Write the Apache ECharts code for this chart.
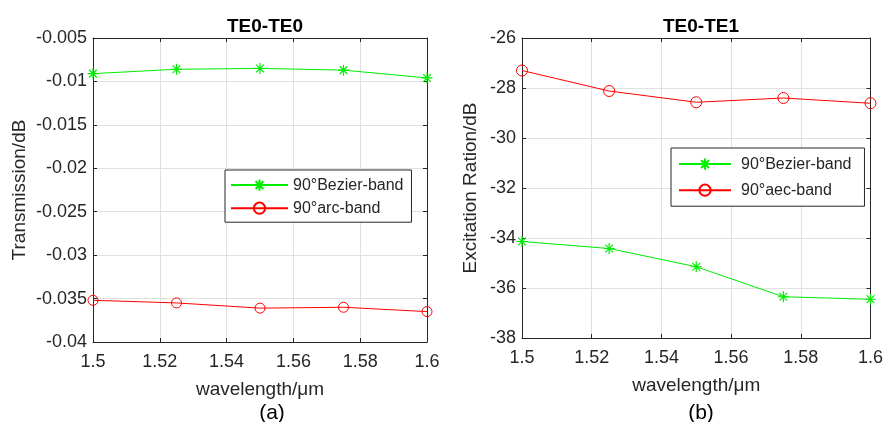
<!DOCTYPE html>
<html>
<head>
<meta charset="utf-8">
<script src="https://cdn.jsdelivr.net/npm/echarts@6/dist/echarts.min.js"></script>
<style>
  html, body { margin: 0; padding: 0; background: #fff; }
  #main { width: 886px; height: 422px; }
</style>
</head>
<body>
<div id="main"></div>
<script>
var wavelength = [1.5, 1.525, 1.55, 1.575, 1.6];

// (a) TE0-TE0 transmission
var bezierTE0 = [-0.0091, -0.0086, -0.0085, -0.0087, -0.0096];
var arcTE0 = [-0.0352, -0.0355, -0.0361, -0.0360, -0.0365];

// (b) TE0-TE1 excitation ratio
var bezierTE1 = [-34.14, -34.42, -35.15, -36.35, -36.45];
var aecTE1 = [-27.30, -28.12, -28.57, -28.40, -28.61];

var xTicks = { min: 1.5, max: 1.6, interval: 0.02 };
var yTicksA = { min: -0.04, max: -0.005, interval: 0.005 };
var yTicksB = { min: -38, max: -26, interval: 2 };

var textColor = '#262626';
var font = 'Liberation Sans, Arial, sans-serif';
var green = '#00ee00';
var red = '#ff0000';

// asterisk marker, drawn with strokes
var star = 'path://M0 5 L10 5 M5 0 L5 10 M1.5 1.5 L8.5 8.5 M8.5 1.5 L1.5 8.5';

function pairs(xs, ys) {
    return xs.map(function (x, i) { return [x, ys[i]]; });
}

var myChart = echarts.init(document.getElementById('main'));

function xAxisFor(grid, pos) {
    var main = pos === 'bottom';
    return {
        type: 'value', gridIndex: grid, position: pos,
        min: xTicks.min, max: xTicks.max, interval: xTicks.interval,
        name: main ? 'wavelength/μm' : '',
        nameLocation: 'middle', nameGap: 38,
        nameTextStyle: { color: textColor, fontSize: 19, fontFamily: font },
        axisLine: { show: true, lineStyle: { color: textColor } },
        axisTick: { show: true, inside: true, length: 4, lineStyle: { color: textColor } },
        axisLabel: {
            show: main, color: textColor, fontSize: 18, fontFamily: font, margin: 11,
            formatter: function (v) { return String(+v.toFixed(2)); }
        },
        splitLine: { show: main, lineStyle: { color: '#e0e0e0' } }
    };
}

function yAxisFor(grid, pos, ticks, name, gap, digits) {
    var main = pos === 'left';
    return {
        type: 'value', gridIndex: grid, position: pos,
        min: ticks.min, max: ticks.max, interval: ticks.interval,
        name: main ? name : '',
        nameLocation: 'middle', nameGap: gap,
        nameTextStyle: { color: textColor, fontSize: 19, fontFamily: font },
        axisLine: { show: true, lineStyle: { color: textColor } },
        axisTick: { show: true, inside: true, length: 4, lineStyle: { color: textColor } },
        axisLabel: {
            show: main, color: textColor, fontSize: 18, fontFamily: font, margin: 6,
            formatter: function (v) { return String(+v.toFixed(digits)); }
        },
        splitLine: { show: main, lineStyle: { color: '#e0e0e0' } }
    };
}

var option = {
    animation: false,
    backgroundColor: '#fff',
    title: [
        { text: 'TE0-TE0', left: 260, top: 12, textAlign: 'center',
          textStyle: { fontSize: 19, fontWeight: 'bold', color: '#000', fontFamily: font } },
        { text: 'TE0-TE1', left: 696, top: 12, textAlign: 'center',
          textStyle: { fontSize: 19, fontWeight: 'bold', color: '#000', fontFamily: font } },
        { text: '(a)', left: 267, top: 398, textAlign: 'center',
          textStyle: { fontSize: 21, fontWeight: 'normal', color: '#000', fontFamily: font } },
        { text: '(b)', left: 696, top: 398, textAlign: 'center',
          textStyle: { fontSize: 21, fontWeight: 'normal', color: '#000', fontFamily: font } }
    ],
    grid: [
        { left: 93, right: 459, top: 38, bottom: 80 },
        { left: 522, right: 15, top: 38, bottom: 84 }
    ],
    legend: [
        {
            data: ['90°Bezier-band', '90°arc-band'],
            orient: 'vertical', left: 225, top: 170,
            itemWidth: 57, itemHeight: 14, itemGap: 7,
            padding: [7, 8, 6, 5],
            borderColor: textColor, borderWidth: 1, borderRadius: 0,
            backgroundColor: '#fff',
            textStyle: { fontSize: 16, color: textColor, fontFamily: font },
            selectedMode: false
        },
        {
            data: ['90°Bezier-band', '90°aec-band'],
            orient: 'vertical', left: 671, top: 148,
            itemWidth: 52, itemHeight: 14, itemGap: 10,
            padding: [8, 13, 8, 7],
            borderColor: textColor, borderWidth: 1, borderRadius: 0,
            backgroundColor: '#fff',
            textStyle: { fontSize: 16, color: textColor, fontFamily: font, padding: [0, 0, 0, 5] },
            selectedMode: false
        }
    ],
    xAxis: [
        xAxisFor(0, 'bottom'), xAxisFor(0, 'top'),
        xAxisFor(1, 'bottom'), xAxisFor(1, 'top')
    ],
    yAxis: [
        yAxisFor(0, 'left', yTicksA, 'Transmission/dB', 64, 3),
        yAxisFor(0, 'right', yTicksA, '', 0, 3),
        yAxisFor(1, 'left', yTicksB, 'Excitation Ration/dB', 42, 0),
        yAxisFor(1, 'right', yTicksB, '', 0, 0)
    ],
    series: [
        {
            name: '90°Bezier-band', type: 'line', xAxisIndex: 0, yAxisIndex: 0,
            data: pairs(wavelength, bezierTE0),
            symbol: star, symbolSize: 11,
            lineStyle: { color: green, width: 1 },
            itemStyle: { color: 'none', borderColor: green, borderWidth: 1.2 }
        },
        {
            name: '90°arc-band', type: 'line', xAxisIndex: 0, yAxisIndex: 0,
            data: pairs(wavelength, arcTE0),
            symbol: 'circle', symbolSize: 10,
            lineStyle: { color: red, width: 1 },
            itemStyle: { color: 'rgba(0,0,0,0)', borderColor: red, borderWidth: 1 }
        },
        {
            name: '90°Bezier-band', type: 'line', xAxisIndex: 2, yAxisIndex: 2,
            data: pairs(wavelength, bezierTE1),
            symbol: star, symbolSize: 11,
            lineStyle: { color: green, width: 1 },
            itemStyle: { color: 'none', borderColor: green, borderWidth: 1.2 }
        },
        {
            name: '90°aec-band', type: 'line', xAxisIndex: 2, yAxisIndex: 2,
            data: pairs(wavelength, aecTE1),
            symbol: 'circle', symbolSize: 11,
            lineStyle: { color: red, width: 1 },
            itemStyle: { color: 'rgba(0,0,0,0)', borderColor: red, borderWidth: 1 }
        }
    ]
};

option && myChart.setOption(option);
</script>
</body>
</html>
